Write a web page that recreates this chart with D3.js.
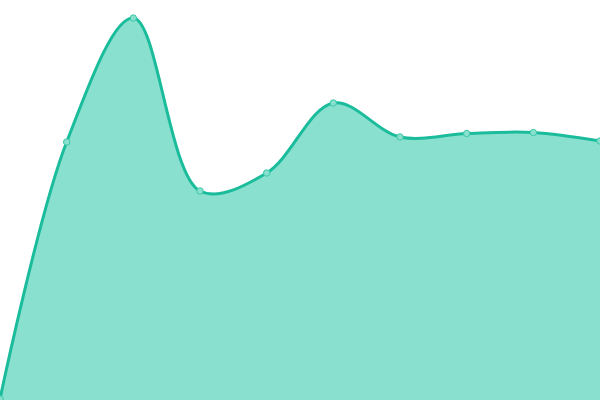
<!DOCTYPE html>
<html><head><meta charset="utf-8">
<script src="https://cdn.jsdelivr.net/npm/d3@7"></script>
<style>html,body{margin:0;padding:0;background:#fff;overflow:hidden}</style>
</head><body>
<svg id="chart" width="600" height="400"></svg>
<script>
const categories = [0,1,2,3,4,5,6,7,8,9];
const values = [1, 258, 382, 209, 227, 297, 263, 266.5, 267.5, 259];
const yMax = 400;

const W = 600, H = 400;
const svg = d3.select("#chart");
const x = d3.scaleLinear().domain([0, categories.length - 1]).range([0, W]);
const y = d3.scaleLinear().domain([0, yMax]).range([H, 0]);
const curve = d3.curveCatmullRom.alpha(0.5);

const area = d3.area().x((d,i)=>x(categories[i])).y0(H).y1(d=>y(d)).curve(curve);
const line = d3.line().x((d,i)=>x(categories[i])).y(d=>y(d)).curve(curve);

svg.append("path").datum(values).attr("d", area).attr("fill", "#8ae0cf");
svg.append("path").datum(values).attr("d", line).attr("fill", "none")
  .attr("stroke", "#1abc9c").attr("stroke-width", 3);
svg.selectAll("circle.pt").data(values).enter().append("circle")
  .attr("class","pt")
  .attr("cx",(d,i)=>x(categories[i])).attr("cy",d=>y(d)).attr("r",3.2)
  .attr("fill","#8ae0cf").attr("stroke","#3cc8a9").attr("stroke-width",1);
</script>
</body></html>
